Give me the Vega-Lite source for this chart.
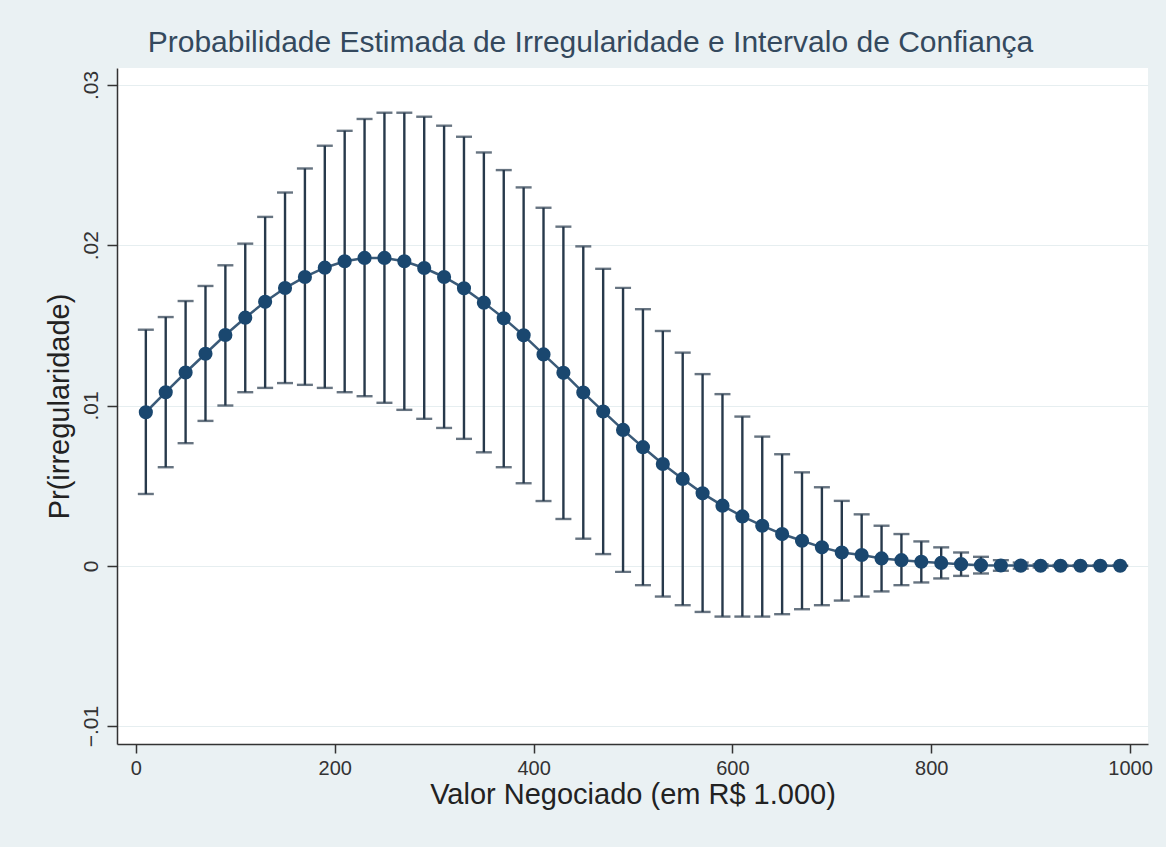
{
  "$schema": "https://vega.github.io/schema/vega-lite/v6.json",
  "width": 1031,
  "height": 676,
  "autosize": {"type": "none"},
  "padding": {"left": 117, "top": 68, "right": 18, "bottom": 103},
  "background": "#eaf1f3",
  "title": {
    "text": "Probabilidade Estimada de Irregularidade e Intervalo de Confiança",
    "font": "Liberation Sans",
    "fontSize": 30,
    "fontWeight": "normal",
    "color": "#34495e",
    "anchor": "middle",
    "baseline": "alphabetic",
    "offset": 14,
    "dy": 28,
    "dx": -42
  },
  "config": {
    "view": {"fill": "white", "stroke": null},
    "axis": {
      "labelFont": "Liberation Sans",
      "titleFont": "Liberation Sans",
      "titleFontWeight": "normal",
      "domainColor": "#333333",
      "domainWidth": 1.5,
      "tickColor": "#333333",
      "tickWidth": 1.5,
      "labelColor": "#333333",
      "titleColor": "#222222"
    }
  },
  "data": {
    "values": [
      {"x": 10, "y": 0.00958, "lo": 0.00448, "hi": 0.01473},
      {"x": 30, "y": 0.01083, "lo": 0.00615, "hi": 0.01552},
      {"x": 50, "y": 0.01206, "lo": 0.00765, "hi": 0.01652},
      {"x": 70, "y": 0.01323, "lo": 0.00904, "hi": 0.01746},
      {"x": 90, "y": 0.0144, "lo": 0.01, "hi": 0.01875},
      {"x": 110, "y": 0.01548, "lo": 0.01083, "hi": 0.0201},
      {"x": 130, "y": 0.01647, "lo": 0.0111, "hi": 0.02177},
      {"x": 150, "y": 0.01733, "lo": 0.0114, "hi": 0.02329},
      {"x": 170, "y": 0.01802, "lo": 0.01129, "hi": 0.02479},
      {"x": 190, "y": 0.0186, "lo": 0.0111, "hi": 0.02621},
      {"x": 210, "y": 0.019, "lo": 0.01083, "hi": 0.02714},
      {"x": 230, "y": 0.01921, "lo": 0.01058, "hi": 0.02788},
      {"x": 250, "y": 0.01921, "lo": 0.01017, "hi": 0.02827},
      {"x": 270, "y": 0.019, "lo": 0.00973, "hi": 0.02827},
      {"x": 290, "y": 0.01858, "lo": 0.00917, "hi": 0.02802},
      {"x": 310, "y": 0.01802, "lo": 0.0086, "hi": 0.02746},
      {"x": 330, "y": 0.01731, "lo": 0.00792, "hi": 0.02677},
      {"x": 350, "y": 0.01642, "lo": 0.00708, "hi": 0.02579},
      {"x": 370, "y": 0.01544, "lo": 0.00615, "hi": 0.02469},
      {"x": 390, "y": 0.01438, "lo": 0.00515, "hi": 0.02361},
      {"x": 410, "y": 0.01319, "lo": 0.00404, "hi": 0.02234},
      {"x": 430, "y": 0.01204, "lo": 0.00292, "hi": 0.02116},
      {"x": 450, "y": 0.01081, "lo": 0.00169, "hi": 0.01993},
      {"x": 470, "y": 0.00963, "lo": 0.00073, "hi": 0.01853},
      {"x": 490, "y": 0.00848, "lo": -0.00038, "hi": 0.01734},
      {"x": 510, "y": 0.0074, "lo": -0.00121, "hi": 0.01601},
      {"x": 530, "y": 0.00635, "lo": -0.00192, "hi": 0.01465},
      {"x": 550, "y": 0.00542, "lo": -0.00246, "hi": 0.0133},
      {"x": 570, "y": 0.00452, "lo": -0.00288, "hi": 0.01196},
      {"x": 590, "y": 0.00375, "lo": -0.00317, "hi": 0.01071},
      {"x": 610, "y": 0.00308, "lo": -0.00317, "hi": 0.00931},
      {"x": 630, "y": 0.0025, "lo": -0.00317, "hi": 0.00806},
      {"x": 650, "y": 0.00198, "lo": -0.00302, "hi": 0.00696},
      {"x": 670, "y": 0.00156, "lo": -0.00271, "hi": 0.00583},
      {"x": 690, "y": 0.00115, "lo": -0.00246, "hi": 0.0049},
      {"x": 710, "y": 0.00083, "lo": -0.00217, "hi": 0.00405},
      {"x": 730, "y": 0.00067, "lo": -0.00192, "hi": 0.00321},
      {"x": 750, "y": 0.00046, "lo": -0.0016, "hi": 0.0025},
      {"x": 770, "y": 0.00035, "lo": -0.00121, "hi": 0.00198},
      {"x": 790, "y": 0.00025, "lo": -0.00104, "hi": 0.00152},
      {"x": 810, "y": 0.00018, "lo": -0.00079, "hi": 0.00115},
      {"x": 830, "y": 0.0001, "lo": -0.00063, "hi": 0.00083},
      {"x": 850, "y": 0.00004, "lo": -0.00048, "hi": 0.00056},
      {"x": 870, "y": 0.00002, "lo": -0.00031, "hi": 0.00035},
      {"x": 890, "y": 0.00001, "lo": -0.00018, "hi": 0.0002},
      {"x": 910, "y": 0.0, "lo": -0.0001, "hi": 0.0001},
      {"x": 930, "y": 0.0, "lo": -0.00005, "hi": 0.00005},
      {"x": 950, "y": 0.0, "lo": -0.00003, "hi": 0.00003},
      {"x": 970, "y": 0.0, "lo": -0.00002, "hi": 0.00002},
      {"x": 990, "y": 0.0, "lo": -0.00001, "hi": 0.00001}
    ]
  },
  "layer": [
    {
      "mark": {"type": "rule", "color": "#27394b", "strokeWidth": 2.4},
      "encoding": {
        "x": {
          "field": "x", "type": "quantitative", "title": "Valor Negociado (em R$ 1.000)",
          "scale": {"domain": [-19, 1018], "nice": false, "zero": false},
          "axis": {
            "values": [0, 200, 400, 600, 800, 1000],
            "format": "d",
            "grid": false,
            "tickSize": 9,
            "labelFontSize": 20,
            "labelPadding": 5,
            "labelFlush": false,
            "titleFontSize": 29,
            "titlePadding": 2
          }
        },
        "y": {
          "field": "lo", "type": "quantitative", "title": "Pr(irregularidade)",
          "scale": {"domain": [-0.01112, 0.03106], "nice": false, "zero": false},
          "axis": {
            "values": [-0.01, 0, 0.01, 0.02, 0.03],
            "grid": true,
            "gridColor": "#e6eef0",
            "gridWidth": 1.2,
            "tickSize": 10,
            "labelAngle": -90,
            "labelFontSize": 21,
            "labelPadding": 6,
            "labelExpr": "datum.value == 0 ? '0' : replace(format(datum.value, '.2f'), '0.', '.')",
            "titleFontSize": 29,
            "titlePadding": 6
          }
        },
        "y2": {"field": "hi"}
      }
    },
    {
      "mark": {"type": "tick", "orient": "horizontal", "size": 16, "thickness": 2.4, "color": "#27394b"},
      "encoding": {
        "x": {"field": "x", "type": "quantitative", "title": "Valor Negociado (em R$ 1.000)"},
        "y": {"field": "lo", "type": "quantitative", "title": "Pr(irregularidade)"}
      }
    },
    {
      "mark": {"type": "tick", "orient": "horizontal", "size": 16, "thickness": 2.4, "color": "#27394b"},
      "encoding": {
        "x": {"field": "x", "type": "quantitative", "title": "Valor Negociado (em R$ 1.000)"},
        "y": {"field": "hi", "type": "quantitative", "title": "Pr(irregularidade)"}
      }
    },
    {
      "mark": {"type": "line", "color": "#3a5a78", "strokeWidth": 2.5},
      "encoding": {
        "x": {"field": "x", "type": "quantitative", "title": "Valor Negociado (em R$ 1.000)"},
        "y": {"field": "y", "type": "quantitative", "title": "Pr(irregularidade)"}
      }
    },
    {
      "mark": {"type": "point", "filled": true, "size": 200, "color": "#1a476f", "opacity": 1},
      "encoding": {
        "x": {"field": "x", "type": "quantitative", "title": "Valor Negociado (em R$ 1.000)"},
        "y": {"field": "y", "type": "quantitative", "title": "Pr(irregularidade)"}
      }
    }
  ]
}
